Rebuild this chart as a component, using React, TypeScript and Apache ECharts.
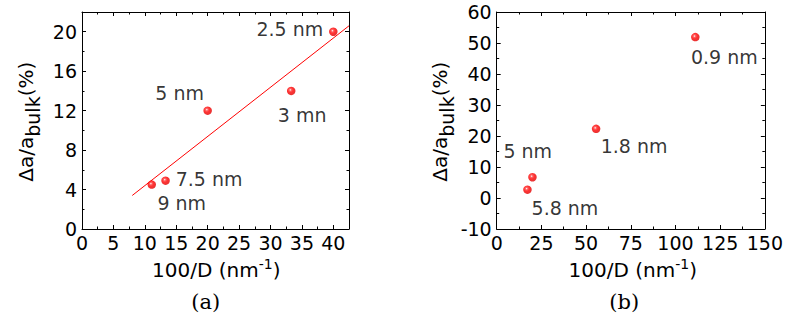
import React, { useEffect, useRef } from 'react';
import * as echarts from 'echarts';

// Panel (a)
const aNames = ['9 nm', '7.5 nm', '5 nm', '3 mn', '2.5 nm'];
const aX = [11.1, 13.3, 20, 33.3, 40];
const aY = [4.5, 4.9, 12, 14, 20];
const aFitX = [8, 42.5];
const aFitY = [3.4, 20.6];
const aXRange = [0, 42.5, 5];
const aYRange = [0, 22, 4];

// Panel (b)
const bNames = ['5.8 nm', '5 nm', '1.8 nm', '0.9 nm'];
const bX = [17.2, 20, 55.6, 111.1];
const bY = [2.7, 6.7, 22.3, 51.9];
const bXRange = [0, 150, 25];
const bYRange = [-10, 60, 10];

// label placement (pixel offsets from the point)
const aLabelOffsets = [[30, 18.7], [43.5, -1.7], [-28, -17.5], [11, 24], [-43.5, -2.7]];
const bLabelOffsets = [[37.5, 18.5], [-4.7, -26.7], [38, 17.5], [29, 19.7]];

const SANS = "'DejaVu Sans', sans-serif";
const SERIF = "'DejaVu Serif', serif";

const ballColor = {
  type: 'radial', x: 0.4, y: 0.38, r: 0.62,
  colorStops: [
    { offset: 0, color: '#ffffff' },
    { offset: 0.22, color: '#ff4040' },
    { offset: 0.5, color: '#ff0000' },
    { offset: 1, color: '#e00000' },
  ],
};

function axis(range: number[], position: string, gridIndex: number, showLabel: boolean) {
  return {
    type: 'value',
    gridIndex,
    position,
    min: range[0],
    max: range[1],
    interval: range[2],
    axisLine: { show: true, onZero: false, lineStyle: { color: '#000', width: 1 } },
    axisTick: { show: true, inside: true, length: 4, lineStyle: { color: '#000', width: 1 } },
    minorTick: { show: true, splitNumber: 2, length: 2.5, lineStyle: { color: '#000', width: 1 } },
    splitLine: { show: false },
    axisLabel: {
      show: showLabel,
      fontFamily: SANS,
      fontSize: 19,
      color: '#000',
      margin: position === 'bottom' ? 4 : 5,
      showMaxLabel: range[1] % range[2] === 0,
    },
  };
}

function scatterSeries(xs: number[], ys: number[], names: string[], offsets: number[][], xi: number, yi: number) {
  return {
    type: 'scatter',
    xAxisIndex: xi,
    yAxisIndex: yi,
    symbol: 'circle',
    symbolSize: 8.5,
    itemStyle: { color: ballColor, borderWidth: 0 },
    label: {
      show: true,
      position: 'inside',
      fontFamily: SANS,
      fontSize: 19,
      color: '#000',
    },
    data: xs.map((x, i) => ({
      value: [x, ys[i]],
      label: { formatter: names[i], offset: offsets[i] },
    })),
    z: 3,
  };
}

function yTitle(x: number, y: number) {
  return {
    type: 'text',
    x,
    y,
    rotation: Math.PI / 2,
    style: {
      text: '{m|Δa/a}{s|bulk}{m|(%)}',
      align: 'center',
      verticalAlign: 'middle',
      fill: '#000',
      fontFamily: SANS,
      fontSize: 20,
      rich: {
        m: { fontFamily: SANS, fontSize: 20, fill: '#000' },
        s: { fontFamily: SANS, fontSize: 19, fill: '#000', padding: [14, 0, 0, 0] },
      },
    },
  };
}

function xTitle(x: number, y: number) {
  return {
    type: 'text',
    x,
    y,
    style: {
      text: '{m|100/D (nm}{s|-1}{m|)}',
      align: 'center',
      verticalAlign: 'middle',
      fill: '#000',
      fontFamily: SANS,
      fontSize: 20,
      rich: {
        m: { fontFamily: SANS, fontSize: 20, fill: '#000' },
        s: { fontFamily: SANS, fontSize: 14, fill: '#000', padding: [0, 0, 12, 0] },
      },
    },
  };
}

function caption(text: string, x: number, y: number) {
  return {
    type: 'text',
    x,
    y,
    style: {
      text,
      align: 'center',
      verticalAlign: 'middle',
      fill: '#000',
      fontFamily: SERIF,
      fontSize: 21,
    },
  };
}

export default function App() {
  const ref = useRef<HTMLDivElement>(null);
  useEffect(() => {
    document.body.style.margin = '0';
    const chart = echarts.init(ref.current!, undefined, { renderer: 'svg' });
    const option = {
      animation: false,
      backgroundColor: '#fff',
      grid: [
        { left: 82, top: 12, width: 267, height: 217 },
        { left: 496.7, top: 12, width: 270, height: 217 },
      ],
      xAxis: [
        axis(aXRange, 'bottom', 0, true),
        axis(aXRange, 'top', 0, false),
        axis(bXRange, 'bottom', 1, true),
        axis(bXRange, 'top', 1, false),
      ],
      yAxis: [
        axis(aYRange, 'left', 0, true),
        axis(aYRange, 'right', 0, false),
        axis(bYRange, 'left', 1, true),
        axis(bYRange, 'right', 1, false),
      ],
      series: [
        {
          type: 'line',
          xAxisIndex: 0,
          yAxisIndex: 0,
          data: aFitX.map((x, i) => [x, aFitY[i]]),
          symbol: 'none',
          lineStyle: { color: '#ff0000', width: 1 },
          z: 2,
        },
        scatterSeries(aX, aY, aNames, aLabelOffsets, 0, 0),
        scatterSeries(bX, bY, bNames, bLabelOffsets, 2, 2),
      ],
      graphic: [
        yTitle(26.4, 121.7),
        yTitle(439.8, 121.7),
        xTitle(216.3, 269.5),
        xTitle(632.8, 269.5),
        caption('(a)', 205.8, 302),
        caption('(b)', 624.2, 302),
      ],
    };
    chart.setOption(option as any);
    return () => chart.dispose();
  }, []);
  return <div ref={ref} style={{ position: 'fixed', left: 0, top: 0, width: 786, height: 324 }} />;
}
